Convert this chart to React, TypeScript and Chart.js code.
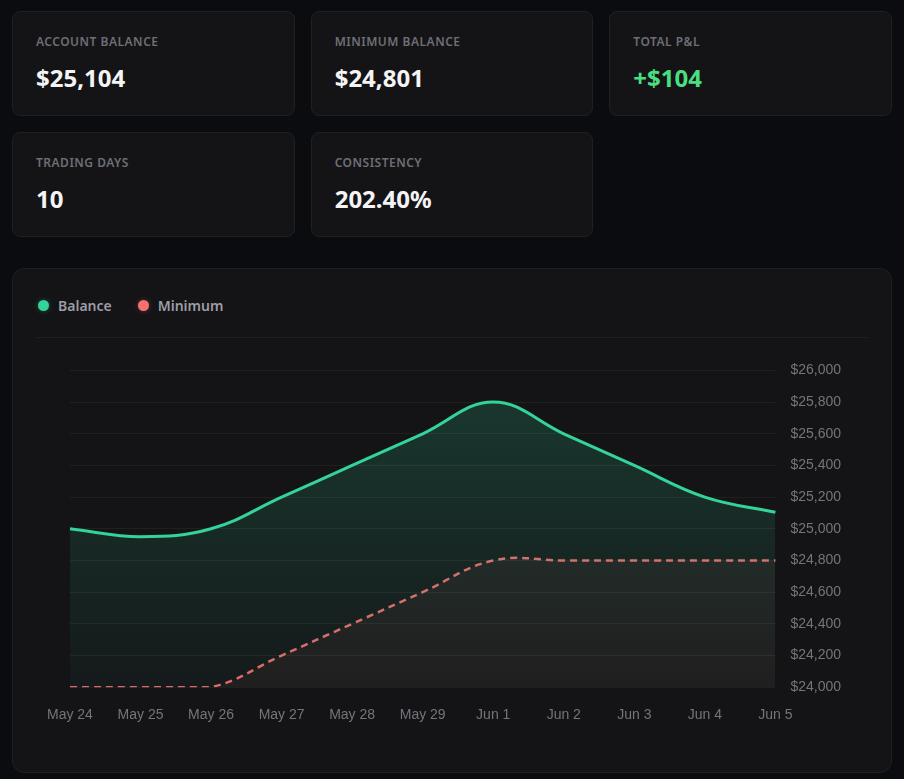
import React, { useEffect, useRef } from "react";
import { Chart, registerables } from "chart.js";

Chart.register(...registerables);

// Daily series
const dates = ["May 24", "May 25", "May 26", "May 27", "May 28", "May 29", "Jun 1", "Jun 2", "Jun 3", "Jun 4", "Jun 5"];
const balance = [25000, 24950, 25000, 25200, 25400, 25600, 25800, 25600, 25400, 25200, 25104];
const minimum = [24000, 24000, 24000, 24200, 24400, 24600, 24800, 24800, 24800, 24800, 24800];

// Summary cards
const statLabels = ["Account Balance", "Minimum Balance", "Total P&L", "Trading Days", "Consistency"];
const statValues = ["$25,104", "$24,801", "+$104", "10", "202.40%"];

const GREEN = "#34d399";
const RED = "#f87171";
const UI_FONT = "'Noto Sans', 'Open Sans', sans-serif";
const AXIS_FONT = "'Liberation Sans', Arial, sans-serif";

const cardStyle: React.CSSProperties = {
  background: "#141417",
  border: "1px solid #1f1f24",
  borderRadius: 8,
  padding: "22px 24px 22px 23px",
  boxSizing: "border-box",
  height: 105,
};

function StatCard({ label, value, positive }: { label: string; value: string; positive?: boolean }) {
  return (
    <div style={cardStyle}>
      <div
        style={{
          fontSize: 12,
          lineHeight: "16px",
          fontWeight: 600,
          letterSpacing: 0.5,
          textTransform: "uppercase",
          color: "#6e6e76",
        }}
      >
        {label}
      </div>
      <div
        style={{
          marginTop: 12,
          fontSize: 24,
          lineHeight: "32px",
          fontWeight: 700,
          color: positive ? "#4ade80" : "#f4f4f5",
        }}
      >
        {value}
      </div>
    </div>
  );
}

function LegendItem({ color, text }: { color: string; text: string }) {
  return (
    <div style={{ display: "flex", alignItems: "center", marginRight: 24 }}>
      <span
        style={{
          width: 11,
          height: 11,
          borderRadius: "50%",
          background: color,
          display: "inline-block",
          marginLeft: 2,
          marginRight: 9,
          boxShadow: `0 0 5px ${color}55`,
        }}
      />
      <span style={{ fontSize: 14, fontWeight: 600, color: "#9d9da5" }}>{text}</span>
    </div>
  );
}

function BalanceChart() {
  const ref = useRef<HTMLCanvasElement | null>(null);

  useEffect(() => {
    if (!ref.current) return;
    const chart = new Chart(ref.current, {
      type: "line",
      data: {
        labels: dates,
        datasets: [
          {
            label: "Balance",
            data: balance,
            borderColor: GREEN,
            borderWidth: 3,
            tension: 0.4,
            pointRadius: 0,
            fill: "start",
            backgroundColor: (ctx: any) => {
              const area = ctx.chart.chartArea;
              if (!area) return "rgba(52,211,153,0.1)";
              const g = ctx.chart.ctx.createLinearGradient(0, area.top, 0, area.bottom);
              g.addColorStop(0, "rgba(52,211,153,0.2)");
              g.addColorStop(1, "rgba(52,211,153,0.03)");
              return g;
            },
          },
          {
            label: "Minimum",
            data: minimum,
            borderColor: "rgba(248,113,113,0.9)",
            borderWidth: 2.5,
            borderDash: [7, 5],
            tension: 0.4,
            pointRadius: 0,
            fill: "start",
            backgroundColor: "rgba(248,113,113,0.05)",
          },
        ],
      },
      options: {
        animation: false,
        responsive: true,
        maintainAspectRatio: false,
        layout: { padding: { left: 25, right: 12, top: 8, bottom: 4 } },
        plugins: {
          legend: { display: false },
          tooltip: { enabled: false },
        },
        scales: {
          x: {
            grid: { display: false, drawTicks: false },
            border: { display: false },
            ticks: {
              color: "#74747c",
              padding: 20,
              maxRotation: 0,
              autoSkip: false,
              font: { family: AXIS_FONT, size: 14 },
            },
          },
          y: {
            position: "right",
            min: 24000,
            max: 26000,
            grid: { color: "rgba(255,255,255,0.055)", drawTicks: false },
            border: { display: false },
            ticks: {
              stepSize: 200,
              color: "#74747c",
              padding: 15,
              font: { family: AXIS_FONT, size: 14 },
              callback: (v: any) => "$" + Number(v).toLocaleString("en-US"),
            },
          },
        },
      },
    });
    return () => chart.destroy();
  }, []);

  return (
    <div
      style={{
        position: "relative",
        height: 401,
        marginTop: 9,
        marginLeft: -9,
        width: "calc(100% + 9px)",
      }}
    >
      <canvas ref={ref} />
    </div>
  );
}

export default function App() {
  useEffect(() => {
    document.body.style.margin = "8px";
    document.body.style.background = "#0b0c0f";
  }, []);

  return (
    <div style={{ padding: "3px 4px 4px 4px", fontFamily: UI_FONT, background: "#0b0c0f" }}>
      <div style={{ display: "grid", gridTemplateColumns: "repeat(3, 1fr)", gap: 16 }}>
        {statLabels.map((l, i) => (
          <StatCard key={l} label={l} value={statValues[i]} positive={statValues[i].startsWith("+")} />
        ))}
      </div>
      <div
        style={{
          marginTop: 31,
          background: "#141417",
          border: "1px solid #1f1f24",
          borderRadius: 12,
          padding: "23px 23px 23px 23px",
          height: 505,
          boxSizing: "border-box",
        }}
      >
        <div style={{ display: "flex", alignItems: "center", height: 26 }}>
          <LegendItem color={GREEN} text="Balance" />
          <LegendItem color={RED} text="Minimum" />
        </div>
        <div style={{ height: 1, background: "#1f1f24", marginTop: 19 }} />
        <BalanceChart />
      </div>
    </div>
  );
}
